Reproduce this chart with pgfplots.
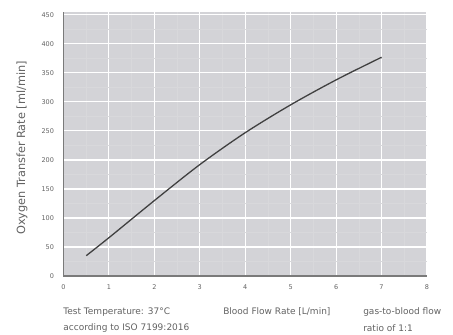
\documentclass[border=0pt]{standalone}
\usepackage{pgfplots}
\pgfplotsset{compat=1.18}
\usepackage{fontspec}
\setmainfont{DejaVu Sans}
\definecolor{plotbg}{HTML}{D3D3D7}
\definecolor{txt}{HTML}{626262}
\definecolor{axl}{HTML}{7A7A7A}
\definecolor{minorg}{HTML}{D8D8DB}
\begin{document}
\begin{tikzpicture}
\useasboundingbox (-63.5pt,-59pt) rectangle (389.5pt,276pt);
\begin{axis}[
  scale only axis,
  width=363.5pt, height=264pt,
  xmin=0, xmax=8, ymin=0, ymax=455,
  xtick={0,1,...,8}, ytick={0,50,...,450},
  minor x tick num=1, minor y tick num=1,
  axis background/.style={fill=plotbg},
  grid=both,
  major grid style={white, line width=1.1pt},
  minor grid style={minorg, line width=0.4pt},
  axis line style={draw=none},
  major tick length=0pt, minor tick length=0pt,
  tick label style={font=\fontsize{6.5}{8}\selectfont, text=txt},
  /pgf/number format/assume math mode=true,
  xticklabel style={yshift=-5pt},
  yticklabel style={xshift=-6pt},
  ylabel={Oxygen Transfer Rate [ml/min]},
  ylabel style={at={(axis description cs:-0.114,0.485)}, anchor=center, font=\fontsize{11.3}{12}\selectfont, text=txt},
  clip=false,
]
\addplot[color=black!75, line width=1.3pt, smooth] coordinates {
  (0.5,35) (1,66) (2,130) (3,192) (4,247) (5,295) (6,338) (7,377)
};
\draw[axl, line width=1.8pt] (axis cs:0,455) -- (axis cs:0,0) -- (axis cs:8,0);
\node[anchor=west, font=\fontsize{9}{10}\selectfont, text=txt] at (axis description cs:-0.01,-0.136) {Test Temperature: 37°C};
\node[anchor=west, font=\fontsize{9}{10}\selectfont, text=txt] at (axis description cs:-0.01,-0.197) {according to ISO 7199:2016};
\node[anchor=center, font=\fontsize{9}{10}\selectfont, text=txt] at (axis description cs:0.587,-0.136) {Blood Flow Rate [L/min]};
\node[anchor=west, font=\fontsize{9}{10}\selectfont, text=txt] at (axis description cs:0.815,-0.136) {gas-to-blood flow};
\node[anchor=west, font=\fontsize{9}{10}\selectfont, text=txt] at (axis description cs:0.815,-0.197) {ratio of 1:1};
\end{axis}
\end{tikzpicture}
\end{document}
